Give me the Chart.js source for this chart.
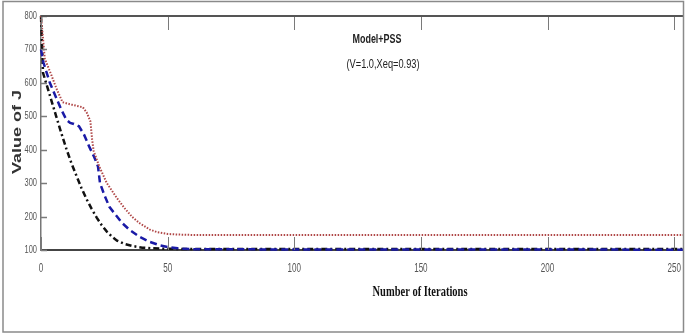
<!DOCTYPE html>
<html>
<head>
    <title>Model+PSS - Value of J vs Number of Iterations</title>
    <script src="https://cdn.jsdelivr.net/npm/chart.js"></script>
    <style>
        body { margin: 0; background: #fff; }
        #wrap { width: 685px; height: 334px; }
    </style>
</head>
<body>
    <div id="wrap"><canvas id="jChart"></canvas></div>

    <script>
        // Values
        const redIter = [0, 1.5, 4, 6, 8.5, 12, 16.5, 18, 19.5, 20.2, 20.8, 23, 26, 30, 33, 36, 39, 43, 46, 50, 55, 60, 253.5];
        const redJ = [800, 672, 625, 585, 542, 535, 527, 512, 485, 430, 396, 350, 300, 255, 225, 199, 180, 161, 153, 148, 146, 145, 145];

        const blueIter = [0, 1, 3.5, 8, 10, 11.5, 13, 15, 17, 19, 21, 22.5, 23.3, 25, 27, 30, 32, 35, 39, 43, 47, 50, 54, 60, 253.5];
        const blueJ = [700, 660, 600, 520, 490, 480, 477, 470, 445, 410, 378, 350, 300, 265, 229, 200, 181, 160, 139, 124, 114, 109, 105, 102, 101];

        const blackIter = [0, 0.8, 2, 4, 6, 8, 10, 12, 14, 16, 18, 20, 22, 24, 26, 28, 30, 33, 36, 40, 44, 48, 55, 253.5];
        const blackJ = [800, 630, 600, 550, 500, 450, 403, 360, 322, 285, 252, 223, 197, 174, 155, 140, 128, 118, 112, 107, 105, 104, 103, 103];

        const xTickStep = 50;
        const yTickStep = 100;

        const toPoints = (xs, ys) => xs.map((x, i) => ({ x: x, y: ys[i] }));

        const sans = '"Liberation Sans", Arial, sans-serif';

        // draw text squeezed horizontally (the figure uses a condensed face)
        function squeezed(ctx, text, x, y, sx) {
            ctx.save();
            ctx.translate(x, y);
            ctx.scale(sx, 1);
            ctx.fillText(text, 0, 0);
            ctx.restore();
        }

        // ticks pointing inwards, tick labels, plot box and the outer frame, MATLAB style
        const framePlugin = {
            id: 'framePlugin',
            afterDatasetsDraw(chart) {
                const ctx = chart.ctx;
                const area = chart.chartArea;
                const xs = chart.scales.x;
                const ys = chart.scales.y;
                ctx.save();
                ctx.strokeStyle = '#7a7a7a';
                ctx.lineWidth = 1;
                xs.ticks.forEach(t => {
                    const px = Math.round(xs.getPixelForValue(t.value)) + 0.5;
                    ctx.beginPath();
                    ctx.moveTo(px, area.bottom);
                    ctx.lineTo(px, area.bottom - 13);
                    ctx.moveTo(px, area.top);
                    ctx.lineTo(px, area.top + 14);
                    ctx.stroke();
                });
                ctx.lineWidth = 1.5;
                ys.ticks.forEach(t => {
                    const py = Math.round(ys.getPixelForValue(t.value)) + 0.5;
                    ctx.beginPath();
                    ctx.moveTo(area.left, py);
                    ctx.lineTo(area.left + 6, py);
                    ctx.stroke();
                });

                // tick labels
                ctx.fillStyle = '#555';
                ctx.textBaseline = 'middle';
                ctx.font = '11px ' + sans;
                ctx.textAlign = 'right';
                ys.ticks.forEach(t => {
                    squeezed(ctx, String(t.value), area.left - 4, ys.getPixelForValue(t.value), 0.68);
                });
                ctx.font = '13px ' + sans;
                ctx.textAlign = 'center';
                xs.ticks.forEach(t => {
                    squeezed(ctx, String(t.value), xs.getPixelForValue(t.value), area.bottom + 18, 0.62);
                });

                // top border of the axes
                ctx.strokeStyle = '#555';
                ctx.lineWidth = 2;
                ctx.beginPath();
                ctx.moveTo(area.left, area.top);
                ctx.lineTo(area.right, area.top);
                ctx.stroke();
                // outer frame of the figure
                ctx.strokeStyle = '#8a8a8a';
                ctx.lineWidth = 1.5;
                ctx.strokeRect(3, 1.5, 680.5, 330.5);
                ctx.restore();
            },
            afterDraw(chart) {
                const ctx = chart.ctx;
                ctx.save();
                ctx.fillStyle = '#222';
                ctx.textAlign = 'center';
                ctx.textBaseline = 'middle';
                ctx.font = 'bold 13px ' + sans;
                let w = ctx.measureText('Model+PSS').width;
                squeezed(ctx, 'Model+PSS', 377, 39, 49 / w);
                ctx.font = '13px ' + sans;
                w = ctx.measureText('(V=1.0,Xeq=0.93)').width;
                squeezed(ctx, '(V=1.0,Xeq=0.93)', 383, 64, 73 / w);

                // x axis title, condensed serif
                ctx.fillStyle = '#111';
                ctx.font = 'bold 15px "Liberation Serif", "DejaVu Serif", serif';
                w = ctx.measureText('Number of Iterations').width;
                squeezed(ctx, 'Number of Iterations', 420, 292, 95 / w);

                // y axis title
                ctx.fillStyle = '#333';
                ctx.font = 'bold 12px ' + sans;
                w = ctx.measureText('Value of J').width;
                ctx.save();
                ctx.translate(18, 132);
                ctx.rotate(-Math.PI / 2);
                ctx.scale(84 / w, 1);
                ctx.fillText('Value of J', 0, 0);
                ctx.restore();
                ctx.restore();
            }
        };

        const ctx = document.getElementById('jChart').getContext('2d');
        new Chart(ctx, {
            type: 'line',
            data: {
                datasets: [{
                    label: 'red',
                    data: toPoints(redIter, redJ),
                    borderColor: '#b04848',
                    borderWidth: 2,
                    borderDash: [1.5, 1.5],
                    pointRadius: 0,
                    tension: 0,
                    clip: 4
                },
                {
                    label: 'blue',
                    data: toPoints(blueIter, blueJ),
                    borderColor: '#1a1aa6',
                    borderWidth: 2.5,
                    borderDash: [7, 4],
                    pointRadius: 0,
                    tension: 0,
                    clip: 4
                },
                {
                    label: 'black',
                    data: toPoints(blackIter, blackJ),
                    borderColor: '#111',
                    borderWidth: 2.5,
                    borderDash: [6, 3, 2, 3],
                    pointRadius: 0,
                    tension: 0,
                    clip: 4
                }]
            },
            options: {
                responsive: true,
                maintainAspectRatio: false,
                animation: false,
                layout: { padding: { top: 16, right: 2, left: 0, bottom: 0 } },
                plugins: {
                    legend: { display: false },
                    tooltip: { enabled: false }
                },
                scales: {
                    x: {
                        type: 'linear',
                        min: 0,
                        max: 253.5,
                        afterFit: s => { s.height = 84; },
                        afterBuildTicks: s => {
                            s.ticks = [];
                            for (let v = 0; v <= 250; v += xTickStep) s.ticks.push({ value: v });
                        },
                        grid: { display: false, drawTicks: false },
                        border: { color: '#444', width: 2 },
                        ticks: { display: false }
                    },
                    y: {
                        min: 100,
                        max: 800,
                        afterFit: s => { s.width = 41; },
                        grid: { display: false, drawTicks: false },
                        border: { color: '#777', width: 1.5 },
                        ticks: { display: false, stepSize: yTickStep }
                    }
                }
            },
            plugins: [framePlugin]
        });
    </script>
</body>
</html>
